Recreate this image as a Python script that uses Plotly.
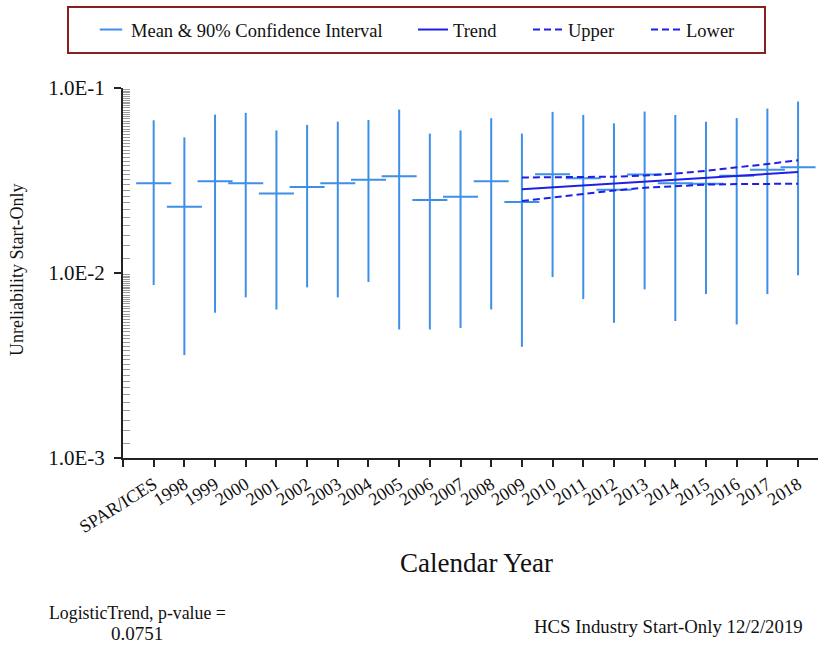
import plotly.graph_objects as go

categories = ["SPAR/ICES", "1998", "1999", "2000", "2001", "2002", "2003", "2004",
              "2005", "2006", "2007", "2008", "2009", "2010", "2011", "2012",
              "2013", "2014", "2015", "2016", "2017", "2018"]
mean_vals = [0.0306, 0.0228, 0.0313, 0.0306, 0.0269, 0.0292, 0.0306, 0.0319,
             0.0333, 0.0248, 0.0258, 0.0313, 0.0242, 0.0342, 0.0325, 0.0282,
             0.0341, 0.0306, 0.0304, 0.0335, 0.0362, 0.0373]
upper_ci = [0.0669, 0.0541, 0.0718, 0.0734, 0.0590, 0.0632, 0.0658, 0.0672,
            0.0764, 0.0567, 0.0590, 0.0687, 0.0567, 0.0743, 0.0715, 0.0644,
            0.0746, 0.0715, 0.0658, 0.0687, 0.0774, 0.0845]
lower_ci = [0.00861, 0.0036, 0.0061, 0.00738, 0.00635, 0.00836, 0.00738, 0.00894,
            0.00495, 0.00495, 0.00504, 0.00635, 0.00399, 0.00951, 0.00723, 0.00538,
            0.00816, 0.0055, 0.00769, 0.00527, 0.00769, 0.00972]

trend_years = ["2009", "2010", "2011", "2012", "2013", "2014", "2015", "2016", "2017", "2018"]
trend_vals = [0.02836, 0.02904, 0.02974, 0.03045, 0.03118, 0.03193, 0.03273, 0.03352, 0.03432, 0.03515]
trend_upper = [0.03281, 0.03285, 0.03293, 0.03318, 0.03363, 0.03444, 0.03567, 0.03712, 0.03883, 0.04066]
trend_lower = [0.02450, 0.02566, 0.02683, 0.02793, 0.02889, 0.02958, 0.03003, 0.03026, 0.03033, 0.03037]

y_tick_vals = [0.001, 0.01, 0.1]
y_tick_text = ["1.0E-3", "1.0E-2", "1.0E-1"]

FONT = "Liberation Serif"
CI_COLOR = "#3d8fe8"
TREND_COLOR = "#1f1fe6"
DASH = "7px,4px"

x_idx = list(range(len(categories)))
trend_x = [categories.index(y) for y in trend_years]

err_plus = [u - m for u, m in zip(upper_ci, mean_vals)]
err_minus = [m - l for m, l in zip(mean_vals, lower_ci)]

# minor tick positions (axis decoration)
minor_vals = []
for d in [0.001, 0.01]:
    for k in range(1, 45):
        minor_vals.append(d * (1 + 0.2 * k))

W, H = 825, 645
PL, PR, PT, PB = 123, 818, 88, 458   # plot area in pixels
L, R, T, B = PL, W - PR, PT, H - PB
pw, ph = PR - PL, PB - PT

def px(X):
    return (X - PL) / pw

def py(Y):
    return (PB - Y) / ph

fig = go.Figure()
fig.add_trace(go.Scatter(
    x=x_idx, y=mean_vals, mode="markers",
    name="Mean & 90% Confidence Interval", legend="legend",
    marker=dict(symbol="line-ew", size=25, color=CI_COLOR,
                line=dict(color=CI_COLOR, width=2)),
    error_y=dict(type="data", symmetric=False, array=err_plus, arrayminus=err_minus,
                 color=CI_COLOR, thickness=2, width=0),
))
fig.add_trace(go.Scatter(x=trend_x, y=trend_vals, mode="lines", name="Trend",
                         legend="legend2", line=dict(color=TREND_COLOR, width=2)))
fig.add_trace(go.Scatter(x=trend_x, y=trend_upper, mode="lines", name="Upper",
                         legend="legend3", line=dict(color=TREND_COLOR, width=2, dash=DASH)))
fig.add_trace(go.Scatter(x=trend_x, y=trend_lower, mode="lines", name="Lower",
                         legend="legend4", line=dict(color=TREND_COLOR, width=2, dash=DASH)))

def leg(text_start):
    return dict(orientation="h", x=px(text_start - 40), y=py(30),
                xanchor="left", yanchor="middle",
                font=dict(family=FONT, size=18.5, color="#111111"),
                bgcolor="rgba(0,0,0,0)", borderwidth=0, itemwidth=30)

fig.update_layout(
    width=W, height=H,
    margin=dict(l=L, r=R, t=T, b=B, pad=0, autoexpand=False),
    paper_bgcolor="white", plot_bgcolor="white",
    font=dict(family=FONT, color="#111111"),
    showlegend=True,
    legend=leg(131), legend2=leg(453), legend3=leg(568), legend4=leg(686),
    xaxis=dict(range=[-1, len(categories) - 0.35], showgrid=False, zeroline=False,
               showline=True, linecolor="#222222", linewidth=2,
               tickmode="array", tickvals=[-1] + x_idx, ticktext=[""] + categories,
               ticks="outside", ticklen=7, tickwidth=1.5, tickcolor="#222222",
               tickangle=-32, tickfont=dict(family=FONT, size=18, color="#111111")),
    yaxis=dict(type="log", range=[-3, -1], showgrid=False, zeroline=False,
               showline=True, linecolor="#222222", linewidth=2,
               tickmode="array", tickvals=y_tick_vals, ticktext=y_tick_text,
               ticks="outside", ticklen=7, tickwidth=1.5, tickcolor="#222222",
               ticklabelstandoff=5,
               tickfont=dict(family=FONT, size=21, color="#111111")),
    shapes=[dict(type="rect", xref="paper", yref="paper",
                 x0=px(68), x1=px(765), y0=py(53), y1=py(7),
                 line=dict(color="#8b1f1f", width=2), fillcolor="rgba(0,0,0,0)")],
    annotations=[
        dict(text="Calendar Year", xref="paper", yref="paper", x=px(476), y=py(563),
             xanchor="center", yanchor="middle", showarrow=False,
             font=dict(family=FONT, size=27, color="#111111")),
        dict(text="Unreliability Start-Only", xref="paper", yref="paper", x=px(17), y=py(270),
             xanchor="center", yanchor="middle", showarrow=False, textangle=-90,
             font=dict(family=FONT, size=18, color="#111111")),
        dict(text="LogisticTrend, p-value =", xref="paper", yref="paper",
             x=px(137), y=py(613), xanchor="center", yanchor="middle", showarrow=False,
             font=dict(family=FONT, size=17.8, color="#111111")),
        dict(text="0.0751", xref="paper", yref="paper",
             x=px(137), y=py(633), xanchor="center", yanchor="middle", showarrow=False,
             font=dict(family=FONT, size=19, color="#111111")),
        dict(text="HCS Industry Start-Only 12/2/2019", xref="paper", yref="paper",
             x=px(668), y=py(626), xanchor="center", yanchor="middle", showarrow=False,
             font=dict(family=FONT, size=18.8, color="#111111")),
    ],
)
fig.update_yaxes(minor=dict(tickmode="array", tickvals=minor_vals, ticks="inside",
                            ticklen=7, tickwidth=1, tickcolor="#9a9a9a", showgrid=False))

fig.write_html("out.html", config={"displayModeBar": False},
               post_script="document.body.style.margin='0px';")
